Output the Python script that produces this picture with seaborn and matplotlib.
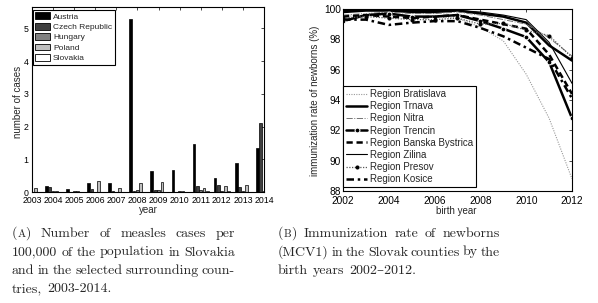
import numpy as np
import pandas as pd
import seaborn as sns
import matplotlib.pyplot as plt
from matplotlib.patches import Patch

# --- left panel: measles cases per 100,000 ---
years = list(range(2003, 2015))
countries = ['Austria', 'Czech Republic', 'Hungary', 'Poland', 'Slovakia']
austria = [0.05, 0.18, 0.10, 0.29, 0.26, 5.28, 0.64, 0.68, 1.46, 0.42, 0.89, 1.33]
czech = [0.01, 0.16, 0.01, 0.08, 0.02, 0.03, 0.05, 0.01, 0.18, 0.22, 0.14, 2.12]
hungary = [0.01, 0.03, 0.02, 0.01, 0.01, 0.05, 0.05, 0.03, 0.06, 0.03, 0.04, 0.02]
poland = [0.12, 0.04, 0.04, 0.33, 0.12, 0.28, 0.31, 0.04, 0.11, 0.19, 0.22, 0.29]
slovakia = [0.01, 0.01, 0.01, 0.01, 0.0, 0.0, 0.0, 0.0, 0.04, 0.02, 0.0, 0.0]
country_colors = ['#000000', '#404040', '#808080', '#bfbfbf', '#ffffff']

# --- right panel: immunization rate (MCV1) ---
birth_years = list(range(2002, 2013))
regions = ['Region Bratislava', 'Region Trnava', 'Region Nitra', 'Region Trencin',
           'Region Banska Bystrica', 'Region Zilina', 'Region Presov', 'Region Kosice']
bratislava = [99.5, 99.6, 99.6, 99.5, 99.5, 99.4, 98.8, 97.9, 95.7, 92.8, 88.8]
trnava = [99.8, 99.9, 99.9, 99.8, 99.8, 99.9, 99.7, 99.5, 99.1, 97.6, 96.6]
nitra = [99.6, 99.7, 99.8, 99.7, 99.7, 99.8, 99.6, 99.3, 99.0, 98.1, 96.9]
trencin = [99.2, 99.6, 99.7, 99.5, 99.5, 99.6, 99.2, 98.7, 98.15, 96.5, 92.8]
banska = [99.5, 99.6, 99.5, 99.4, 99.5, 99.6, 99.3, 99.0, 98.7, 97.0, 94.4]
zilina = [99.9, 99.9, 99.9, 99.9, 99.9, 99.9, 99.8, 99.6, 99.3, 97.8, 95.1]
presov = [99.4, 99.5, 99.4, 99.3, 99.3, 99.4, 99.0, 99.05, 98.6, 98.25, 96.8]
kosice = [99.3, 99.3, 98.95, 99.1, 99.2, 99.2, 98.75, 98.2, 97.45, 96.7, 94.1]
region_values = [bratislava, trnava, nitra, trencin, banska, zilina, presov, kosice]
region_styles = [
    dict(color='0.6', linestyle=(0, (1, 1.2)), linewidth=0.8),
    dict(color='black', linestyle='-', linewidth=1.8),
    dict(color='0.45', linestyle='-.', linewidth=0.7),
    dict(color='black', linestyle='-', linewidth=1.8, marker='o', markersize=3.5),
    dict(color='black', linestyle=(0, (2.5, 1.5)), linewidth=1.8),
    dict(color='black', linestyle='-', linewidth=0.8),
    dict(color='0.35', linestyle=(0, (1, 1.2)), linewidth=0.9, marker='o', markersize=2.2,
         markerfacecolor='black', markeredgecolor='black'),
    dict(color='black', linestyle=(0, (3, 1.5, 1, 1.5)), linewidth=1.8),
]

sns.set_style('white')
plt.rcParams['font.family'] = ['Liberation Sans', 'DejaVu Sans']

W, H = 598, 303
fig = plt.figure(figsize=(W / 100, H / 100), dpi=100)


def px_axes(l, t, r, b):
    return fig.add_axes([l / W, 1 - b / H, (r - l) / W, (b - t) / H])


def style_box(ax, size, xpad, ypad):
    for s in ax.spines.values():
        s.set_visible(True)
        s.set_color('black')
        s.set_linewidth(0.8)
    ax.tick_params(direction='in', length=2.5, width=0.5, top=True, right=True,
                   labelsize=size, colors='black')
    ax.tick_params(axis='x', pad=xpad)
    ax.tick_params(axis='y', pad=ypad)


# left bar chart
ax1 = px_axes(32, 7, 264, 192)
rows = []
for name, vals in zip(countries, [austria, czech, hungary, poland, slovakia]):
    for yr, v in zip(years, vals):
        rows.append({'year': yr, 'cases': v, 'country': name})
cases = pd.DataFrame(rows)
sns.barplot(data=cases, x='year', y='cases', hue='country', hue_order=countries,
            palette=dict(zip(countries, country_colors)), native_scale=True,
            errorbar=None, gap=0.2, edgecolor='black', linewidth=0.5,
            legend=False, ax=ax1)
ax1.set_xlim(2003, 2014)
ax1.set_ylim(0, 5.65)
ax1.set_xticks(years)
ax1.set_yticks(range(6))
ax1.set_xlabel('')
ax1.set_ylabel('')
style_box(ax1, 6.3, 3.0, 2.5)
handles = [Patch(facecolor=c, edgecolor='black', linewidth=0.6, label=n)
           for n, c in zip(countries, country_colors)]
leg1 = ax1.legend(handles=handles, loc='upper left', bbox_to_anchor=(0.004, 0.985),
                  fontsize=6, frameon=True, fancybox=False, edgecolor='black',
                  framealpha=1, borderpad=0.3, labelspacing=0.25, handlelength=1.8,
                  handleheight=0.9, handletextpad=0.3, borderaxespad=0)
leg1.get_frame().set_linewidth(0.8)
fig.text(18 / W, 1 - 102 / H, 'number of cases', rotation=90, ha='center', va='center', fontsize=7)
fig.text(148 / W, 1 - 210 / H, 'year', ha='center', va='center', fontsize=7)

# right line chart
ax2 = px_axes(343, 9, 572, 191)
for name, vals, st in zip(regions, region_values, region_styles):
    sns.lineplot(x=birth_years, y=vals, ax=ax2, label=name, **st)
ax2.set_xlim(2002, 2012)
ax2.set_ylim(88, 100)
ax2.set_xticks(range(2002, 2013, 2))
ax2.set_yticks(range(88, 101, 2))
ax2.set_xlabel('')
ax2.set_ylabel('')
style_box(ax2, 7.3, 3.4, 1.5)
leg2 = ax2.legend(loc='lower left', bbox_to_anchor=(0.0, 0.022), fontsize=7,
                  frameon=True, fancybox=False, edgecolor='black', framealpha=1,
                  borderpad=0.3, labelspacing=0.22, handlelength=2.2,
                  handletextpad=0.3, borderaxespad=0)
leg2.get_frame().set_linewidth(0.8)
fig.text(315 / W, 1 - 101 / H, 'immunization rate of newborns (%)', rotation=90,
         ha='center', va='center', fontsize=7)
fig.text(456 / W, 1 - 210.5 / H, 'birth year', ha='center', va='center', fontsize=7)

# captions, justified word by word; a word is a list of (text, size) pieces
renderer = fig.canvas.get_renderer()
serif = ['cmr10', 'DejaVu Serif']
cap_size = 10.0


def caption_line(words, x0, x1, y, justify=True):
    placed = []
    for w in words:
        pieces = w if isinstance(w, list) else [(w, cap_size)]
        arts = [fig.text(0, 0, s, fontsize=fs, family=serif, va='baseline') for s, fs in pieces]
        ws = [a.get_window_extent(renderer).width for a in arts]
        placed.append((arts, ws))
    total = sum(sum(ws) for _, ws in placed)
    gap = (x1 - x0 - total) / (len(words) - 1) if justify else 4.6
    x = x0
    for arts, ws in placed:
        for a, w in zip(arts, ws):
            a.set_position((x / W, 1 - y / H))
            x += w
        x += gap


def tag(letter):
    return [('(', cap_size), (letter, cap_size * 0.78), (')', cap_size)]


caption_a = [[tag('A'), 'Number', 'of', 'measles', 'cases', 'per'],
             ['100,000', 'of', 'the', 'population', 'in', 'Slovakia'],
             ['and', 'in', 'the', 'selected', 'surrounding', 'coun-'],
             ['tries,', '2003-2014.']]
caption_b = [[tag('B'), 'Immunization', 'rate', 'of', 'newborns'],
             ['(MCV1)', 'in', 'the', 'Slovak', 'counties', 'by', 'the'],
             ['birth', 'years', '2002\u20132012.']]
baselines = [237, 255.5, 274, 292]
for i, line in enumerate(caption_a):
    caption_line(line, 12, 235, baselines[i], justify=i < len(caption_a) - 1)
for i, line in enumerate(caption_b):
    caption_line(line, 278, 500, baselines[i], justify=i < len(caption_b) - 1)

fig.savefig('out.png', dpi=100)
